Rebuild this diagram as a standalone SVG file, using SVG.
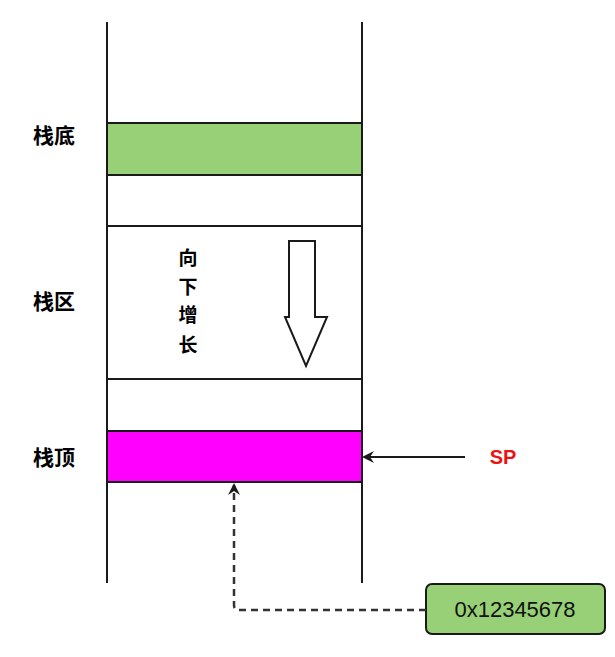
<svg xmlns="http://www.w3.org/2000/svg" width="615" height="657" viewBox="0 0 615 657">
<style>
.ln{stroke:#1a1a1a;stroke-width:2;fill:none}
.lbl{font-family:"Noto Sans CJK SC","Noto Sans",sans-serif;font-weight:bold;font-size:21px;fill:#000}
.vt{font-family:"Noto Sans CJK SC","Noto Sans",sans-serif;font-weight:bold;font-size:19px;fill:#000}
.cell{stroke:#1a1a1a;stroke-width:2}
</style>
<defs>
<marker id="ah" markerWidth="12" markerHeight="12" refX="10" refY="6" orient="auto" markerUnits="userSpaceOnUse">
<path d="M0,0 L12,6 L0,12 L4,6 Z" fill="#1a1a1a"/>
</marker>
</defs>
<rect width="615" height="657" fill="#fff"/>
<g id="stack">
<line class="ln" x1="107" y1="22" x2="107" y2="583"/>
<line class="ln" x1="362" y1="22" x2="362" y2="583"/>
</g>
<g id="bottom-cell"><rect class="cell" x="107" y="123" width="255" height="52" fill="#97D077"/></g>
<g id="cell2"><rect class="cell" x="107" y="175" width="255" height="51" fill="#fff"/></g>
<g id="area-cell"><rect class="cell" x="107" y="226" width="255" height="153" fill="#fff"/></g>
<g id="cell4"><rect class="cell" x="107" y="379" width="255" height="52" fill="#fff"/></g>
<g id="top-cell"><rect class="cell" x="107" y="431" width="255" height="51" fill="#FF00FF"/></g>
<g id="grow-arrow"><path d="M289,241 L315,241 L315,317 L327,317 L306,366 L285,317 L289,317 Z" fill="#fff" stroke="#1a1a1a" stroke-width="2"/></g>
<g id="grow-text">
<text class="vt" x="188" y="265" text-anchor="middle">向</text>
<text class="vt" x="188" y="294" text-anchor="middle">下</text>
<text class="vt" x="188" y="322" text-anchor="middle">增</text>
<text class="vt" x="188" y="352" text-anchor="middle">长</text>
</g>
<g id="label-bottom"><text class="lbl" x="54" y="143" text-anchor="middle">栈底</text></g>
<g id="label-area"><text class="lbl" x="54" y="309" text-anchor="middle">栈区</text></g>
<g id="label-top"><text class="lbl" x="54" y="465" text-anchor="middle">栈顶</text></g>
<g id="sp"><text x="503" y="464" text-anchor="middle" font-family="'Liberation Sans',sans-serif" font-weight="bold" font-size="20" fill="#EE1111">SP</text></g>
<g id="addr">
<rect x="426" y="584" width="179" height="50" rx="6" fill="#97D077" stroke="#1a1a1a" stroke-width="2"/>
<text x="515" y="617" text-anchor="middle" font-family="'Liberation Sans',sans-serif" font-size="22" fill="#111">0x12345678</text>
</g>
<g id="connectors">
<line x1="465" y1="457" x2="364" y2="457" stroke="#1a1a1a" stroke-width="2" marker-end="url(#ah)"/>
<path d="M426,610 L239,610 Q234,610 234,605 L234,485" fill="none" stroke="#333" stroke-width="2.5" stroke-dasharray="7,5" marker-end="url(#ah)"/>
</g>
</svg>
